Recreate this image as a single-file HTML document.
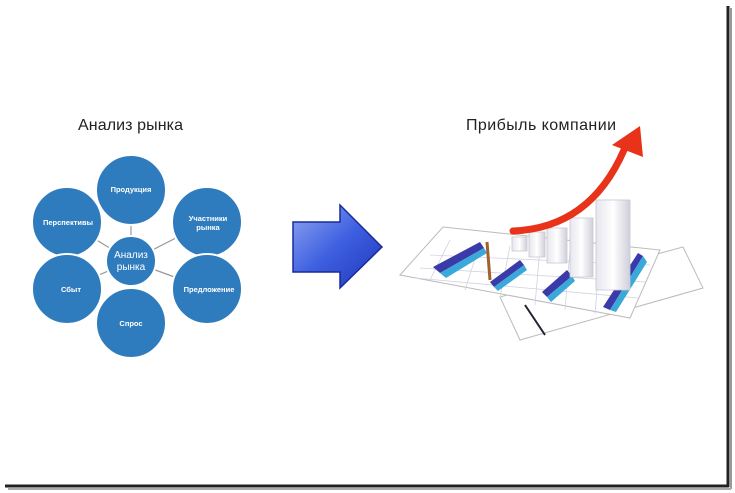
<!DOCTYPE html>
<html><head><meta charset="utf-8"><style>
html,body{margin:0;padding:0;background:#fff}
body{width:735px;height:493px;overflow:hidden;position:relative;font-family:"Liberation Sans","DejaVu Sans",sans-serif}
</style></head><body>
<svg width="735" height="493" viewBox="0 0 735 493" xmlns="http://www.w3.org/2000/svg" style="position:absolute;left:0;top:0">
<defs>
<linearGradient id="ag" x1="0" y1="0" x2="1" y2="1">
<stop offset="0" stop-color="#8fa6f0"/><stop offset="0.5" stop-color="#3d5fe0"/><stop offset="1" stop-color="#1f36b8"/>
</linearGradient>
<linearGradient id="bar" x1="0" y1="0" x2="1" y2="0">
<stop offset="0" stop-color="#e6e6ee"/><stop offset="0.5" stop-color="#ffffff"/><stop offset="1" stop-color="#cfcfda"/>
</linearGradient>
</defs>
<!-- frame -->
<line x1="728" y1="6" x2="728" y2="487" stroke="#222" stroke-width="3"/>
<line x1="5" y1="486" x2="729" y2="486" stroke="#222" stroke-width="3"/>
<line x1="731" y1="8" x2="731" y2="489" stroke="#999" stroke-width="2"/>
<line x1="8" y1="489" x2="731" y2="489" stroke="#aaa" stroke-width="2"/>

<text x="78" y="130" font-size="16" fill="#222" textLength="105">Анализ рынка</text>
<text x="466" y="130" font-size="16" fill="#222" textLength="150">Прибыль компании</text>

<!-- stubs -->
<g stroke="#999" stroke-width="1.2">
<line x1="131" y1="261" x2="131" y2="190"/><line x1="131" y1="261" x2="207" y2="222"/><line x1="131" y1="261" x2="207" y2="289"/>
<line x1="131" y1="261" x2="131" y2="322"/><line x1="131" y1="261" x2="67" y2="289"/><line x1="131" y1="261" x2="67" y2="222"/>
</g>
<g fill="#2e7cbd" stroke="#fff" stroke-width="2">
<circle cx="131" cy="190" r="35"/>
<circle cx="207" cy="222" r="35"/>
<circle cx="207" cy="289" r="35"/>
<circle cx="67" cy="222" r="35"/>
<circle cx="67" cy="289" r="35"/>
<circle cx="131" cy="323" r="35"/>
<circle cx="131" cy="261" r="25"/>
</g>
<g fill="#fff" font-size="7.5" text-anchor="middle" font-weight="bold">
<text x="131" y="192">Продукция</text>
<text x="208" y="221">Участники</text><text x="208" y="230">рынка</text>
<text x="209" y="292">Предложение</text>
<text x="68" y="225">Перспективы</text>
<text x="71" y="292">Сбыт</text>
<text x="131" y="326">Спрос</text>
<text x="131" y="258" font-size="10" font-weight="normal">Анализ</text>
<text x="131" y="270" font-size="10" font-weight="normal">рынка</text>
</g>

<!-- blue arrow -->
<path d="M293,222 L340,222 L340,205 L382,247 L340,288 L340,272 L293,272 Z" fill="url(#ag)" stroke="#1a2a9a" stroke-width="1.5"/>

<!-- papers -->
<polygon points="500,297 683,247 703,288 520,340" fill="#fff" stroke="#bbb"/>
<line x1="525" y1="305" x2="545" y2="335" stroke="#223" stroke-width="2"/>
<polygon points="400,275 443,227 660,250 630,318" fill="#fff" stroke="#bbb"/>
<g stroke="#cfd3e0" stroke-width="0.8">
<line x1="450" y1="240" x2="430" y2="280"/><line x1="480" y1="243" x2="465" y2="290"/><line x1="510" y1="246" x2="500" y2="298"/><line x1="540" y1="248" x2="535" y2="305"/><line x1="570" y1="250" x2="565" y2="310"/><line x1="600" y1="252" x2="595" y2="314"/>
<line x1="430" y1="255" x2="650" y2="265"/><line x1="420" y1="268" x2="645" y2="282"/><line x1="415" y1="278" x2="638" y2="298"/>
</g>
<!-- blue bars -->
<polygon points="433,267 480,242 484,248 440,273" fill="#3a3aa8"/>
<polygon points="440,273 484,248 487,253 446,278" fill="#3aa8d8"/>
<polygon points="490,282 520,260 524,265 494,287" fill="#3a3aa8"/>
<polygon points="494,287 524,265 527,270 498,291" fill="#3aa8d8"/>
<polygon points="542,292 567,270 572,276 547,297" fill="#3a3aa8"/>
<polygon points="547,297 572,276 575,281 551,302" fill="#3aa8d8"/>
<polygon points="603,307 638,253 643,256 610,310" fill="#3a3aa8"/>
<polygon points="610,310 643,256 647,262 616,312" fill="#3aa8d8"/>
<!-- pen -->
<line x1="487" y1="242" x2="490" y2="280" stroke="#a0622a" stroke-width="3"/>
<!-- white 3D bars -->
<g stroke="#c8c8d2" stroke-width="0.8">
<rect x="512" y="237" width="15" height="14" fill="url(#bar)"/>
<rect x="529" y="232" width="16" height="25" fill="url(#bar)"/>
<rect x="547" y="228" width="20" height="35" fill="url(#bar)"/>
<rect x="570" y="218" width="23" height="59" fill="url(#bar)"/>
<rect x="596" y="200" width="34" height="90" fill="url(#bar)"/>
</g>
<!-- red arrow -->
<path d="M513,231 Q590,228 624,150" fill="none" stroke="#e8321a" stroke-width="7" stroke-linecap="round"/>
<polygon points="640,126 612,145 643,157" fill="#e8321a"/>
</svg>
</body></html>
